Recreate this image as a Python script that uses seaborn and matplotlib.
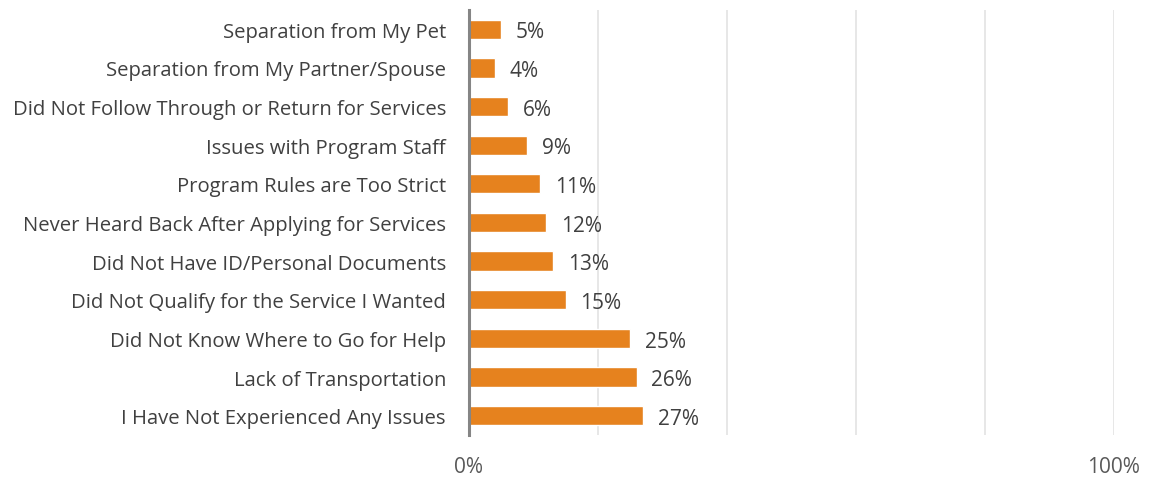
import matplotlib
matplotlib.use("Agg")
import matplotlib.pyplot as plt
import seaborn as sns
import pandas as pd

categories = [
    "Separation from My Pet",
    "Separation from My Partner/Spouse",
    "Did Not Follow Through or Return for Services",
    "Issues with Program Staff",
    "Program Rules are Too Strict",
    "Never Heard Back After Applying for Services",
    "Did Not Have ID/Personal Documents",
    "Did Not Qualify for the Service I Wanted",
    "Did Not Know Where to Go for Help",
    "Lack of Transportation",
    "I Have Not Experienced Any Issues",
]
values = [5, 4, 6, 9, 11, 12, 13, 15, 25, 26, 27]
tick_values = [0, 100]
tick_labels = ["0%", "100%"]

sns.set_theme(style="white")
plt.rcParams["font.family"] = ["Open Sans", "DejaVu Sans"]

df = pd.DataFrame({"category": categories, "value": values})

fig = plt.figure(figsize=(11.52, 4.81), dpi=100)
ax = fig.add_axes([0.407, 0.0936, 0.560, 0.8836])

sns.barplot(data=df, x="value", y="category", orient="h", color="#E6821E",
            saturation=1, width=0.5, ax=ax)

ax.set_xlim(0, 100)
ax.set_ylim(len(categories) - 0.5, -0.5)
for gx in [20, 40, 60, 80, 100]:
    ax.axvline(gx, color="#E3E3E3", lw=1.2, zorder=0)

for i, v in enumerate(values):
    ax.text(v + 2.3, i + 0.07, f"{v}%", va="center", ha="left",
            fontsize=15, color="#404040")

ax.set_xticks(tick_values)
ax.set_xticklabels(tick_labels, fontsize=15, color="#595959")
ax.tick_params(axis="x", length=0, pad=15)
ax.tick_params(axis="y", length=0, pad=16.5, labelsize=14.6, labelcolor="#404040")
ax.set_xlabel("")
ax.set_ylabel("")
for s in ["top", "right", "bottom"]:
    ax.spines[s].set_visible(False)
ax.spines["left"].set_color("#858585")
ax.spines["left"].set_linewidth(2.2)
ax.spines["left"].set_zorder(5)

fig.savefig("out.png", dpi=100)
